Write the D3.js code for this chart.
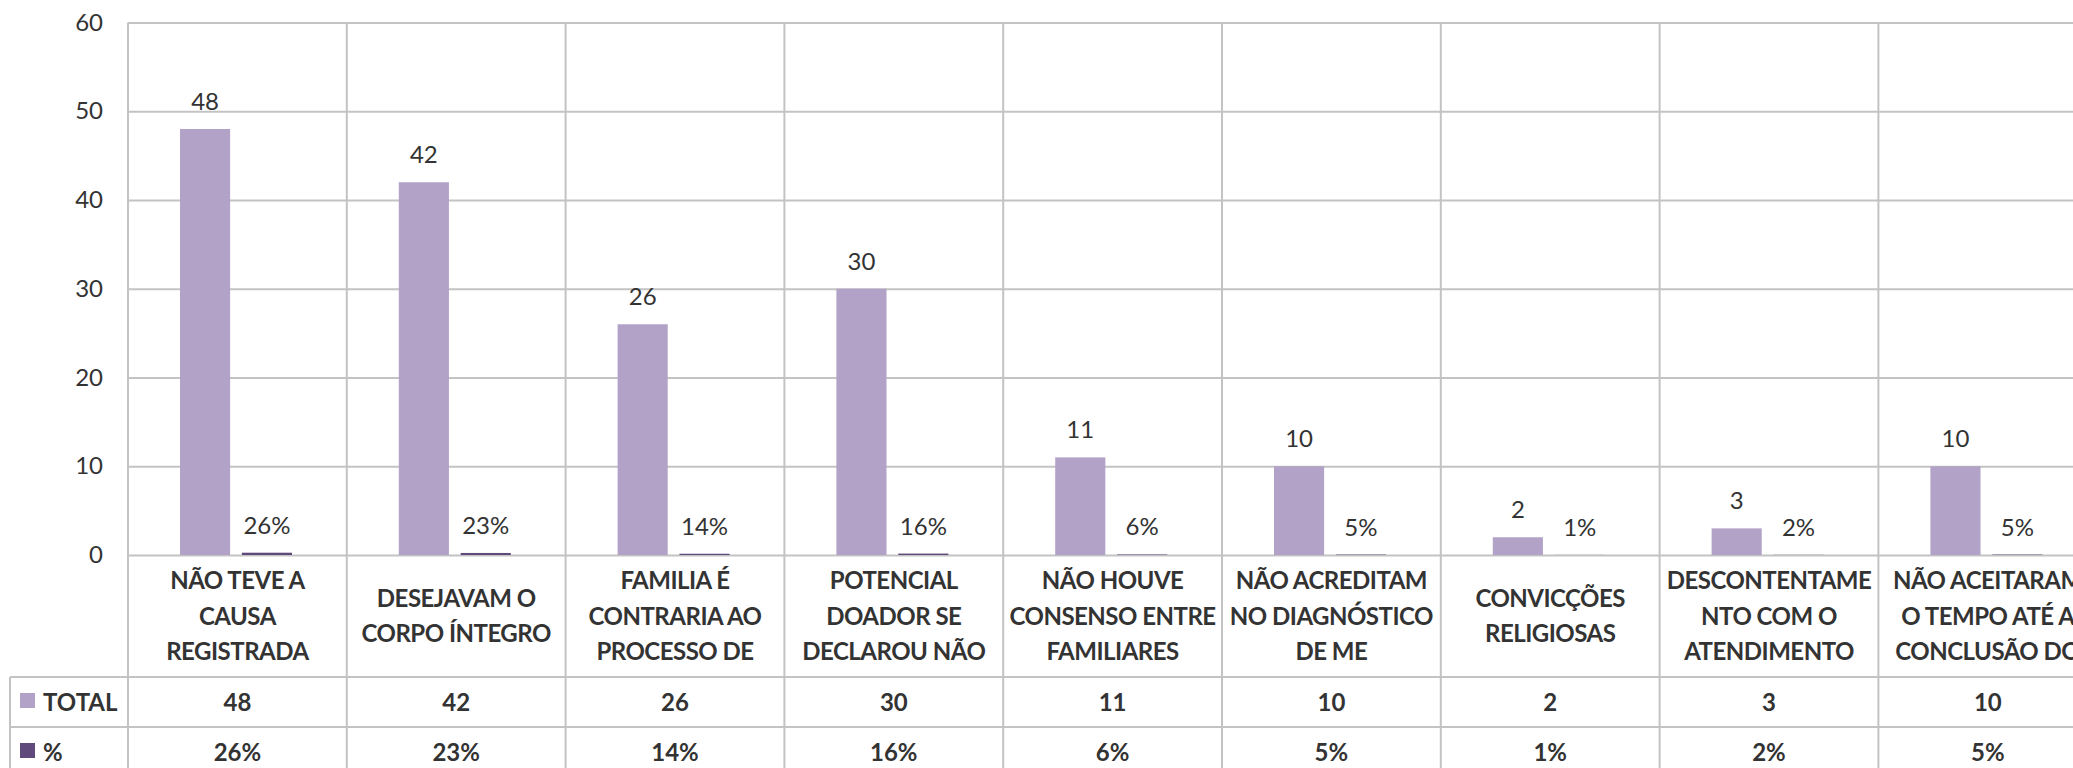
<!DOCTYPE html>
<html>
<head>
<meta charset="utf-8">
<script src="https://cdn.jsdelivr.net/npm/d3@7"></script>
<style>
  body { margin: 0; background: #fff; }
  svg { display: block; font-family: Lato, "Open Sans", sans-serif; }
</style>
</head>
<body>
<svg width="2073" height="768"></svg>
<script>
const width = 2073
const height = 768

// data
const categories = [
  ["NÃO TEVE A", "CAUSA", "REGISTRADA"],
  ["DESEJAVAM O", "CORPO ÍNTEGRO"],
  ["FAMILIA É", "CONTRARIA AO", "PROCESSO DE"],
  ["POTENCIAL", "DOADOR SE", "DECLAROU NÃO"],
  ["NÃO HOUVE", "CONSENSO ENTRE", "FAMILIARES"],
  ["NÃO ACREDITAM", "NO DIAGNÓSTICO", "DE ME"],
  ["CONVICÇÕES", "RELIGIOSAS"],
  ["DESCONTENTAME", "NTO COM O", "ATENDIMENTO"],
  ["NÃO ACEITARAM", "O TEMPO ATÉ A", "CONCLUSÃO DO"]
]
const seriesNames = ["TOTAL", "%"]
const totalValues = [48, 42, 26, 30, 11, 10, 2, 3, 10]
const pctValues = [0.26, 0.23, 0.14, 0.16, 0.06, 0.05, 0.01, 0.02, 0.05]
const yTicks = [0, 10, 20, 30, 40, 50, 60]

const colors = {"TOTAL": "#b3a2c7", "%": "#604a7b"}
const gridColor = "#c3c3c3"
const textColor = "#333333"

let margin = {top: 22.5, left: 128, tableLeft: 10}
let colW = 218.8
let plotBottom = 555
let catBottom = 677
let rowH = 50

const svg = d3.select("svg")

const x = d3.scaleBand()
  .domain(d3.range(categories.length))
  .range([margin.left, margin.left + colW * categories.length])
  .padding(0)

const x1 = d3.scaleBand()
  .domain(seriesNames)
  .range([52, 52 + 112])
  .paddingInner(0.19)

const y = d3.scaleLinear()
  .domain([0, 60])
  .range([plotBottom, margin.top])

const rows = seriesNames.map((s, i) => ({
  name: s,
  values: i == 0 ? totalValues : pctValues
}))

// y axis + horizontal gridlines
const yAxis = svg.append("g")
  .attr("transform", `translate(${margin.left},0)`)
  .call(d3.axisLeft(y)
    .tickValues(yTicks)
    .tickSize(-(width - margin.left + 40))
    .tickPadding(25))
yAxis.select(".domain").remove()
yAxis.selectAll(".tick line")
  .attr("stroke", gridColor)
  .attr("stroke-width", 2)
yAxis.selectAll(".tick text")
  .attr("fill", textColor)
  .attr("font-size", "24px")
  .attr("font-family", "Lato, sans-serif")

// table horizontal lines
svg.append("g")
  .selectAll("line")
  .data([catBottom, catBottom + rowH, catBottom + rowH * 2])
  .enter().append("line")
  .attr("x1", margin.tableLeft)
  .attr("x2", width + 40)
  .attr("y1", d => d)
  .attr("y2", d => d)
  .attr("stroke", gridColor)
  .attr("stroke-width", 2)

// vertical lines (column borders)
svg.append("g")
  .selectAll("line")
  .data(d3.range(categories.length + 1))
  .enter().append("line")
  .attr("x1", d => margin.left + d * x.step())
  .attr("x2", d => margin.left + d * x.step())
  .attr("y1", margin.top)
  .attr("y2", height + 10)
  .attr("stroke", gridColor)
  .attr("stroke-width", 2)

svg.append("line")
  .attr("x1", margin.tableLeft).attr("x2", margin.tableLeft)
  .attr("y1", catBottom).attr("y2", height + 10)
  .attr("stroke", gridColor)
  .attr("stroke-width", 2)

// bars
const series = svg.selectAll(".series")
  .data(rows)
  .enter().append("g")
  .attr("class", "series")

series.selectAll("rect")
  .data(d => d.values.map((v, i) => ({name: d.name, v: v, i: i})))
  .enter().append("rect")
  .attr("x", d => x(d.i) + x1(d.name))
  .attr("width", x1.bandwidth())
  .attr("y", d => y(d.v))
  .attr("height", d => plotBottom - y(d.v))
  .attr("fill", d => colors[d.name])

// data labels
series.selectAll("text")
  .data(d => d.values.map((v, i) => ({name: d.name, v: v, i: i})))
  .enter().append("text")
  .attr("x", d => x(d.i) + x1(d.name) + x1.bandwidth() / 2)
  .attr("y", d => y(d.v) - 19)
  .attr("text-anchor", "middle")
  .attr("font-size", "24px")
  .attr("fill", textColor)
  .text(d => d.name == "%" ? Math.round(d.v * 100) + "%" : d.v)

// category labels
const lineH = 35.5
const catMid = (plotBottom + catBottom) / 2
svg.append("g")
  .selectAll("text")
  .data(categories)
  .enter().append("text")
  .attr("text-anchor", "middle")
  .attr("font-size", "24px")
  .attr("font-weight", "bold")
  .attr("letter-spacing", "-0.5px")
  .attr("fill", textColor)
  .each(function(lines, i) {
    let t = d3.select(this)
    let start = catMid - (lines.length - 1) * lineH / 2
    lines.forEach((l, k) => {
      t.append("tspan")
        .attr("x", x(i) + x.bandwidth() / 2)
        .attr("y", start + k * lineH)
        .attr("dy", "0.36em")
        .text(l)
    })
  })

// data table
const table = svg.append("g")
rows.forEach((r, ri) => {
  let cy = catBottom + rowH * ri + rowH / 2
  table.append("rect")
    .attr("x", 20)
    .attr("y", cy - 9)
    .attr("width", 15)
    .attr("height", 15)
    .attr("fill", colors[r.name])
  table.append("text")
    .attr("x", 43)
    .attr("y", cy)
    .attr("dy", "0.36em")
    .attr("font-size", "24px")
    .attr("font-weight", "bold")
    .attr("fill", textColor)
    .text(r.name)
  table.selectAll(".cell" + ri)
    .data(r.values)
    .enter().append("text")
    .attr("x", (d, i) => x(i) + x.bandwidth() / 2)
    .attr("y", cy)
    .attr("dy", "0.36em")
    .attr("text-anchor", "middle")
    .attr("font-size", "24px")
    .attr("font-weight", "bold")
    .attr("fill", textColor)
    .text(d => r.name == "%" ? Math.round(d * 100) + "%" : d)
})
</script>
</body>
</html>
